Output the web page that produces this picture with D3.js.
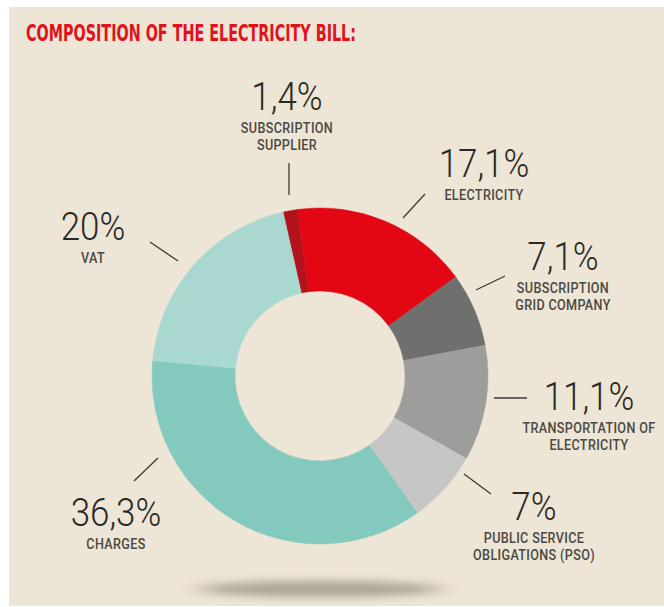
<!DOCTYPE html>
<html>
<head>
<meta charset="utf-8">
<script src="https://cdn.jsdelivr.net/npm/d3@7/dist/d3.min.js"></script>
<style>
  html, body { margin: 0; padding: 0; background: #ffffff; }
  svg { display: block; }
</style>
</head>
<body>
<svg id="chart" width="664" height="607"></svg>
<script>
// Components of the electricity bill, clockwise from the top
const categories = ["subscription_supplier", "electricity", "grid_company", "transportation", "pso", "charges", "vat"];
const shares = [1.4, 17.1, 7.1, 11.1, 7, 36.3, 20];
const valueLabels = ["1,4%", "17,1%", "7,1%", "11,1%", "7%", "36,3%", "20%"];
const nameLabels = [
  ["SUBSCRIPTION", "SUPPLIER"],
  ["ELECTRICITY"],
  ["SUBSCRIPTION", "GRID COMPANY"],
  ["TRANSPORTATION OF", "ELECTRICITY"],
  ["PUBLIC SERVICE", "OBLIGATIONS (PSO)"],
  ["CHARGES"],
  ["VAT"]
];
const sliceColors = ["#b3121a", "#e30613", "#6f6f6e", "#9d9d9c", "#c6c6c5", "#84c9bd", "#a8d8cf"];

// Label layout: text anchor, leader line start/end
const labelPos = [
  { x: 287, y: 110, line: [[289, 195], [289, 163]] },
  { x: 484, y: 177, line: [[403, 218], [425, 194]] },
  { x: 563, y: 270, line: [[476, 290], [505, 276]] },
  { x: 589, y: 410, line: [[494, 398], [527, 398]] },
  { x: 534, y: 520, line: [[464, 474], [491, 494]] },
  { x: 116, y: 526, line: [[158, 458], [134, 481]] },
  { x: 93,  y: 240, line: [[178, 261], [150, 242]] }
];

const svg = d3.select("#chart");
const W = 664, H = 607;

// Panel background
svg.append("rect").attr("x", 9).attr("y", 7).attr("width", W - 9).attr("height", H - 8).attr("fill", "#ede5d5");

const defs = svg.append("defs");
defs.append("filter").attr("id", "soft").attr("x", "-50%").attr("y", "-300%").attr("width", "200%").attr("height", "700%")
  .append("feGaussianBlur").attr("stdDeviation", "14 4");

// Title
svg.append("text")
  .attr("x", 26).attr("y", 41)
  .attr("textLength", 330).attr("lengthAdjust", "spacingAndGlyphs")
  .attr("font-family", "'DejaVu Sans Condensed', sans-serif")
  .attr("font-weight", 700).attr("font-size", 23)
  .attr("fill", "#e0121b")
  .text("COMPOSITION OF THE ELECTRICITY BILL:");

// Floor shadow under the ring
svg.append("ellipse")
  .attr("cx", 320).attr("cy", 589).attr("rx", 122).attr("ry", 8)
  .attr("fill", "#aba596").attr("filter", "url(#soft)");

const cx = 320, cy = 376;
const outerR = 168, innerR = 85;
const startA = -12.7 * Math.PI / 180;

const pie = d3.pie().value(d => d.value).sort(null)
  .startAngle(startA).endAngle(startA + 2 * Math.PI);
const arc = d3.arc().innerRadius(innerR).outerRadius(outerR);

const data = categories.map((c, i) => ({ key: c, value: shares[i], color: sliceColors[i] }));

const g = svg.append("g").attr("transform", `translate(${cx},${cy})`);
g.selectAll("path").data(pie(data)).join("path")
  .attr("d", arc)
  .attr("fill", d => d.data.color)
  .attr("stroke", d => d.data.color)
  .attr("stroke-width", 0.5);

// Leader lines
svg.selectAll("line.leader").data(labelPos).join("line")
  .attr("class", "leader")
  .attr("x1", d => d.line[0][0]).attr("y1", d => d.line[0][1])
  .attr("x2", d => d.line[1][0]).attr("y2", d => d.line[1][1])
  .attr("stroke", "#3c3a36").attr("stroke-width", 1.3);

// Value and name labels
const lg = svg.selectAll("g.lab").data(labelPos).join("g").attr("class", "lab");
lg.append("text")
  .attr("x", d => d.x).attr("y", d => d.y)
  .attr("text-anchor", "middle")
  .attr("font-family", "Roboto, sans-serif").attr("font-weight", 300)
  .attr("font-size", 38).attr("fill", "#2a2824")
  .attr("transform", d => `translate(${d.x},0) scale(0.92,1) translate(${-d.x},0)`)
  .text((d, i) => valueLabels[i]);
lg.each(function(d, i) {
  const sel = d3.select(this);
  nameLabels[i].forEach((t, j) => {
    sel.append("text")
      .attr("x", d.x).attr("y", d.y + 23 + j * 17.5)
      .attr("text-anchor", "middle")
      .attr("font-family", "Roboto, sans-serif")
      .attr("font-weight", 500).attr("font-size", 14)
      .attr("letter-spacing", 0.4)
      .attr("fill", "#4a4843")
      .attr("transform", `translate(${d.x},0) scale(0.9,1) translate(${-d.x},0)`)
      .text(t);
  });
});
</script>
</body>
</html>
